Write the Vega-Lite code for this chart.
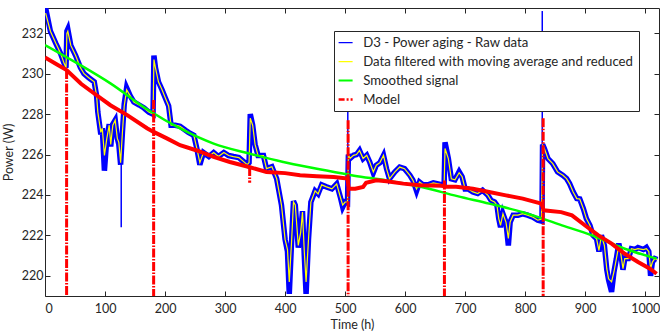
{
  "$schema": "https://vega.github.io/schema/vega-lite/v6.json",
  "width": 614,
  "height": 288,
  "autosize": {"type": "none"},
  "padding": {"left": 45, "top": 8, "right": 1, "bottom": 35},
  "background": "white",
  "config": {
    "view": {"stroke": null},
    "font": "Lato",
    "axis": {
      "grid": false,
      "domainColor": "#262626",
      "tickColor": "#262626",
      "labelColor": "#262626",
      "titleColor": "#262626",
      "labelFont": "Lato",
      "titleFont": "Lato",
      "labelFontSize": 12.5,
      "titleFontSize": 12.5,
      "titleFontWeight": "normal",
      "tickSize": -5,
      "domainWidth": 1,
      "tickWidth": 1,
      "format": "d"
    }
  },
  "datasets": {
    "raw": [
      {"h":0,"p":233.4},{"h":9,"p":232.1},{"h":18,"p":231.5},{"h":26,"p":231.0},{"h":32,"p":230.5},{"h":35,"p":230.3},
      {"h":36.5,"p":232.1},{"h":38,"p":232.2},{"h":43,"p":231.4},{"h":51,"p":230.9},{"h":59,"p":230.3},{"h":65,"p":230.0},
      {"h":73,"p":229.8},{"h":82,"p":229.6},{"h":86,"p":228.9},{"h":88,"p":228.1},{"h":93,"p":227.0},{"h":95.5,"p":227.3},
      {"h":99,"p":225.2},{"h":103,"p":226.8},{"h":107,"p":227.5},{"h":109.5,"p":226.4},{"h":113,"p":227.5},{"h":117,"p":227.7},
      {"h":120.5,"p":226.8},{"h":123,"p":226.5},{"h":126,"p":225.5},{"h":129,"p":227.1},
      {"h":132,"p":228.5},{"h":136,"p":229.3},{"h":142,"p":228.9},{"h":148,"p":228.6},{"h":157,"p":228.45},{"h":165,"p":228.3},
      {"h":173,"p":228.1},{"h":180,"p":228.0},{"h":181.5,"p":230.9},{"h":184,"p":230.3},{"h":189,"p":229.6},{"h":195,"p":229.2},
      {"h":200.5,"p":228.8},{"h":206,"p":228.4},{"h":210,"p":227.45},{"h":217,"p":227.45},{"h":225,"p":227.4},{"h":234,"p":227.2},
      {"h":239,"p":227.1},{"h":248,"p":226.95},{"h":253,"p":226.3},{"h":258,"p":225.5},{"h":264,"p":226.1},{"h":273,"p":225.9},
      {"h":281,"p":226.1},{"h":289,"p":225.9},{"h":298,"p":226.1},{"h":306,"p":225.95},{"h":314,"p":225.9},{"h":323,"p":225.85},
      {"h":331,"p":225.65},{"h":337,"p":225.5},{"h":340,"p":225.6},{"h":342,"p":228.0},{"h":346,"p":227.45},{"h":350,"p":226.5},
      {"h":355,"p":225.95},{"h":364,"p":225.95},{"h":369,"p":225.3},{"h":378,"p":225.4},{"h":386,"p":224.8},{"h":394,"p":223.5},
      {"h":400,"p":221.8},{"h":404,"p":221.2},{"h":407,"p":219.1},{"h":411,"p":221.8},{"h":414,"p":223.7},{"h":417,"p":223.5},
      {"h":422,"p":221.4},{"h":426,"p":222.15},{"h":429,"p":223.2},{"h":432,"p":221.0},{"h":435,"p":219.1},{"h":439,"p":221.8},
      {"h":443,"p":223.65},{"h":450,"p":224.2},{"h":455,"p":224.05},{"h":461,"p":224.5},{"h":469,"p":224.4},{"h":478,"p":224.3},
      {"h":486,"p":224.55},{"h":492,"p":223.9},{"h":496,"p":223.4},{"h":500,"p":223.65},{"h":504,"p":223.6},
      {"h":505.5,"p":226.0},{"h":508,"p":225.8},{"h":514,"p":225.96},{"h":519,"p":226.0},{"h":524,"p":226.2},{"h":530,"p":225.8},
      {"h":536,"p":225.96},{"h":541,"p":225.63},{"h":547,"p":225.1},{"h":552,"p":225.47},{"h":558,"p":225.6},{"h":564,"p":225.96},
      {"h":569,"p":225.3},{"h":574,"p":224.8},{"h":583,"p":225.14},{"h":591,"p":225.38},{"h":599,"p":225.3},{"h":608,"p":224.97},
      {"h":613,"p":224.73},{"h":619,"p":224.2},{"h":624,"p":224.64},{"h":630,"p":224.5},{"h":638,"p":224.5},{"h":647,"p":224.6},
      {"h":655,"p":224.55},{"h":662,"p":224.5},{"h":665,"p":224.5},{"h":666.5,"p":226.6},{"h":672,"p":225.8},{"h":677,"p":224.8},
      {"h":683,"p":224.75},{"h":690,"p":225.15},{"h":695,"p":224.9},{"h":700,"p":224.3},{"h":705,"p":224.3},{"h":713,"p":224.15},
      {"h":721,"p":224.07},{"h":729,"p":224.23},{"h":738,"p":223.98},{"h":743,"p":223.74},{"h":749,"p":223.65},{"h":753,"p":223.49},
      {"h":756,"p":222.83},{"h":759,"p":222.4},{"h":763,"p":223.07},{"h":768,"p":222.66},{"h":772,"p":221.5},{"h":775,"p":222.66},
      {"h":780,"p":223.0},{"h":788,"p":223.0},{"h":796,"p":223.07},{"h":804,"p":223.0},{"h":813,"p":222.9},{"h":821,"p":222.75},
      {"h":828,"p":222.7},{"h":829,"p":226.5},{"h":832,"p":226.3},{"h":838,"p":225.8},{"h":846,"p":225.55},
      {"h":854,"p":225.14},{"h":863,"p":224.97},{"h":869,"p":224.81},{"h":874,"p":224.56},{"h":880,"p":224.15},{"h":886,"p":223.82},
      {"h":891,"p":223.8},{"h":897,"p":223.32},{"h":902,"p":222.83},{"h":908,"p":222.49},{"h":913,"p":222.0},{"h":919,"p":221.83},
      {"h":923,"p":221.2},{"h":927,"p":222.0},{"h":932,"p":221.5},{"h":936,"p":220.3},{"h":939,"p":219.8},{"h":944,"p":219.2},
      {"h":948,"p":220.2},{"h":952,"p":220.85},{"h":956,"p":221.6},{"h":959,"p":221.17},{"h":963,"p":220.3},{"h":966,"p":220.85},
      {"h":972,"p":220.85},{"h":977,"p":221.34},{"h":983,"p":221.3},{"h":988,"p":221.4},{"h":997,"p":221.3},{"h":1002,"p":221.4},
      {"h":1006,"p":221.2},{"h":1009,"p":220.0},{"h":1012,"p":220.68},{"h":1016,"p":220.85},{"h":1020,"p":220.8}
    ],
    "spikes": [
      {"h":127,"lo":222.4,"hi":226.0},
      {"h":504.5,"lo":223.6,"hi":228.3},
      {"h":828.5,"lo":222.7,"hi":233.1}
    ],
    "filt": [
      {"h":1,"p":233.0},{"h":9,"p":232.1},{"h":18,"p":231.5},{"h":26,"p":231.0},{"h":32,"p":230.5},{"h":35,"p":230.3},
      {"h":36.5,"p":232.0},{"h":38,"p":232.1},{"h":43,"p":231.4},{"h":51,"p":230.9},{"h":59,"p":230.3},{"h":65,"p":230.0},
      {"h":73,"p":229.8},{"h":82,"p":229.6},{"h":86,"p":228.9},{"h":88,"p":228.1},{"h":93,"p":227.1},{"h":95.5,"p":227.3},
      {"h":99,"p":225.96},{"h":103,"p":226.8},{"h":107,"p":227.45},{"h":109.5,"p":226.5},{"h":113,"p":227.45},{"h":117,"p":227.7},
      {"h":120.5,"p":226.8},{"h":123,"p":226.6},{"h":126,"p":225.6},{"h":129,"p":227.1},{"h":132,"p":228.4},{"h":136,"p":229.2},
      {"h":142,"p":228.9},{"h":148,"p":228.6},{"h":157,"p":228.45},{"h":165,"p":228.3},{"h":173,"p":228.1},{"h":180,"p":228.0},
      {"h":181.5,"p":230.7},{"h":184,"p":230.3},{"h":189,"p":229.6},{"h":195,"p":229.2},{"h":200.5,"p":228.8},{"h":206,"p":228.4},
      {"h":210,"p":227.45},{"h":217,"p":227.45},{"h":225,"p":227.4},{"h":234,"p":227.2},{"h":239,"p":227.1},{"h":248,"p":226.95},
      {"h":253,"p":226.3},{"h":258,"p":225.6},{"h":264,"p":226.1},{"h":273,"p":225.9},{"h":281,"p":226.1},{"h":289,"p":225.9},
      {"h":298,"p":226.1},{"h":306,"p":225.95},{"h":314,"p":225.9},{"h":323,"p":225.85},{"h":331,"p":225.65},{"h":337,"p":225.5},
      {"h":340,"p":225.6},{"h":342,"p":227.8},{"h":346,"p":227.45},{"h":350,"p":226.5},{"h":355,"p":225.95},{"h":364,"p":225.95},
      {"h":369,"p":225.3},{"h":378,"p":225.4},{"h":386,"p":224.8},{"h":394,"p":223.5},{"h":400,"p":221.8},{"h":404,"p":221.3},
      {"h":407,"p":219.7},{"h":411,"p":221.8},{"h":414,"p":223.65},{"h":417,"p":223.5},{"h":422,"p":221.5},{"h":426,"p":222.15},
      {"h":429,"p":223.15},{"h":432,"p":221.2},{"h":435,"p":219.7},{"h":439,"p":221.8},{"h":443,"p":223.65},{"h":450,"p":224.2},
      {"h":455,"p":224.05},{"h":461,"p":224.5},{"h":469,"p":224.4},{"h":478,"p":224.3},{"h":486,"p":224.55},{"h":492,"p":223.9},
      {"h":496,"p":223.5},{"h":500,"p":223.65},{"h":504,"p":223.65},{"h":505.5,"p":226.0},{"h":508,"p":225.8},{"h":514,"p":225.96},
      {"h":519,"p":226.0},{"h":524,"p":226.2},{"h":530,"p":225.8},{"h":536,"p":225.96},{"h":541,"p":225.63},{"h":547,"p":225.14},
      {"h":552,"p":225.47},{"h":558,"p":225.6},{"h":564,"p":225.96},{"h":569,"p":225.3},{"h":574,"p":224.8},{"h":583,"p":225.14},
      {"h":591,"p":225.38},{"h":599,"p":225.3},{"h":608,"p":224.97},{"h":613,"p":224.73},{"h":619,"p":224.3},{"h":624,"p":224.64},
      {"h":630,"p":224.5},{"h":638,"p":224.5},{"h":647,"p":224.6},{"h":655,"p":224.55},{"h":662,"p":224.5},{"h":665,"p":224.5},
      {"h":666.5,"p":226.3},{"h":672,"p":225.8},{"h":677,"p":224.8},{"h":683,"p":224.75},{"h":690,"p":225.1},{"h":695,"p":224.9},
      {"h":700,"p":224.3},{"h":705,"p":224.3},{"h":713,"p":224.15},{"h":721,"p":224.07},{"h":729,"p":224.23},{"h":738,"p":223.98},
      {"h":743,"p":223.74},{"h":749,"p":223.65},{"h":753,"p":223.49},{"h":756,"p":222.83},{"h":759,"p":222.5},{"h":763,"p":223.07},
      {"h":768,"p":222.66},{"h":772,"p":221.85},{"h":775,"p":222.66},{"h":780,"p":223.0},{"h":788,"p":223.0},{"h":796,"p":223.07},
      {"h":804,"p":223.0},{"h":813,"p":222.9},{"h":821,"p":222.75},{"h":827,"p":222.8},{"h":829,"p":226.45},{"h":832,"p":226.3},
      {"h":838,"p":225.8},{"h":846,"p":225.55},{"h":854,"p":225.14},{"h":863,"p":224.97},{"h":869,"p":224.81},{"h":874,"p":224.56},
      {"h":880,"p":224.15},{"h":886,"p":223.82},{"h":891,"p":223.8},{"h":897,"p":223.32},{"h":902,"p":222.83},{"h":908,"p":222.49},
      {"h":913,"p":222.0},{"h":919,"p":221.83},{"h":923,"p":221.25},{"h":927,"p":222.0},{"h":932,"p":221.5},{"h":936,"p":220.35},
      {"h":939,"p":219.85},{"h":944,"p":219.7},{"h":948,"p":220.2},{"h":952,"p":220.85},{"h":956,"p":221.5},{"h":959,"p":221.17},
      {"h":963,"p":220.35},{"h":966,"p":220.85},{"h":972,"p":220.85},{"h":977,"p":221.34},{"h":983,"p":221.3},{"h":988,"p":221.34},
      {"h":997,"p":221.3},{"h":1002,"p":221.34},{"h":1006,"p":221.2},{"h":1009,"p":220.35},{"h":1012,"p":220.68},{"h":1016,"p":220.85},
      {"h":1020,"p":220.8}
    ],
    "smooth": [
      {"h":0,"p":231.42},{"h":54,"p":230.51},{"h":109,"p":229.52},{"h":172,"p":228.2},{"h":225,"p":227.29},{"h":281,"p":226.54},
      {"h":340,"p":226.05},{"h":397,"p":225.63},{"h":453,"p":225.3},{"h":515,"p":224.95},{"h":569,"p":224.72},{"h":624,"p":224.42},
      {"h":687,"p":223.94},{"h":740,"p":223.57},{"h":796,"p":223.15},{"h":858,"p":222.53},{"h":911,"p":222.0},{"h":966,"p":221.34},
      {"h":1019,"p":220.85}
    ],
    "model": [
      {"h":0,"p":230.8},{"h":20,"p":230.45},{"h":36,"p":230.18},{"h":60,"p":229.5},{"h":82,"p":229.02},{"h":109,"p":228.44},
      {"h":137,"p":227.95},{"h":170,"p":227.3},{"h":181,"p":227.12},{"h":203,"p":226.8},{"h":225,"p":226.46},{"h":253,"p":226.2},
      {"h":281,"p":225.88},{"h":308,"p":225.63},{"h":340,"p":225.38},{"h":369,"p":225.14},{"h":400,"p":225.08},{"h":425,"p":224.97},
      {"h":453,"p":224.93},{"h":481,"p":224.89},{"h":504,"p":224.81},{"h":506,"p":224.31},{"h":517,"p":224.31},{"h":530,"p":224.4},
      {"h":535,"p":224.6},{"h":552,"p":224.73},{"h":569,"p":224.68},{"h":597,"p":224.56},{"h":624,"p":224.48},{"h":662,"p":224.45},
      {"h":668,"p":224.4},{"h":685,"p":224.4},{"h":713,"p":224.31},{"h":740,"p":224.15},{"h":768,"p":223.98},{"h":796,"p":223.82},
      {"h":827,"p":223.57},{"h":831,"p":223.24},{"h":860,"p":223.15},{"h":878,"p":222.99},{"h":900,"p":222.49},{"h":922,"p":222.0},
      {"h":944,"p":221.59},{"h":966,"p":221.09},{"h":988,"p":220.68},{"h":1008,"p":220.35},{"h":1019,"p":220.1}
    ],
    "resets": [
      {"h":36,"top":230.18,"bot":215},
      {"h":181,"top":228.7,"bot":215},
      {"h":341,"top":225.38,"bot":224.6},
      {"h":505,"top":227.7,"bot":215},
      {"h":665.5,"top":224.72,"bot":215},
      {"h":830,"top":227.8,"bot":215}
    ]
  },
  "layer": [
    {
      "data": {"name": "raw"},
      "mark": {"type": "line", "strokeWidth": 5.5, "clip": true},
      "encoding": {
        "x": {"field": "h", "type": "quantitative",
              "scale": {"domain": [0, 1023], "nice": false, "zero": false},
              "axis": {"orient": "bottom", "values": [0,100,200,300,400,500,600,700,800,900,1000], "title": "Time (h)", "labelPadding": 11, "titlePadding": 4}},
        "y": {"field": "p", "type": "quantitative",
              "scale": {"domain": [219, 233.25], "nice": false, "zero": false},
              "axis": {"orient": "left", "values": [220,222,224,226,228,230,232], "title": "Power (W)", "labelPadding": 7, "titlePadding": 6}},
        "color": {"datum": "D3 - Power aging - Raw data", "type": "nominal",
                  "scale": {"domain": ["D3 - Power aging - Raw data", "Data filtered with moving average and reduced", "Smoothed signal", "Model"],
                            "range": ["#0000ff", "#ffff00", "#00ff00", "#ff0000"]},
                  "legend": {"title": null, "orient": "none", "legendX": 289, "legendY": 23,
                             "strokeColor": "#262626", "fillColor": "white", "padding": 5,
                             "symbolType": "stroke", "symbolSize": 196, "symbolStrokeWidth": 1.5,
                             "labelFont": "Lato", "labelFontSize": 13.2, "labelColor": "#262626",
                             "labelOffset": 11, "rowPadding": 5, "labelLimit": 400,
                             "encode": {"symbols": {"update": {
                               "strokeDash": {"signal": "datum.value === 'Model' ? [6,2,2,2] : [1,0]"},
                               "strokeWidth": {"signal": "datum.value === 'Model' ? 2.5 : datum.value === 'Smoothed signal' ? 2 : 1.2"}}}}}}
      }
    },
    {
      "data": {"name": "spikes"},
      "mark": {"type": "rule", "strokeWidth": 1.5, "clip": true},
      "encoding": {
        "x": {"field": "h", "type": "quantitative", "axis": null},
        "y": {"field": "lo", "type": "quantitative", "axis": null},
        "y2": {"field": "hi"},
        "color": {"datum": "D3 - Power aging - Raw data", "type": "nominal"}
      }
    },
    {
      "data": {"name": "filt"},
      "mark": {"type": "line", "strokeWidth": 1.2, "clip": true},
      "encoding": {
        "x": {"field": "h", "type": "quantitative", "axis": null},
        "y": {"field": "p", "type": "quantitative", "axis": null},
        "color": {"datum": "Data filtered with moving average and reduced", "type": "nominal"}
      }
    },
    {
      "data": {"name": "smooth"},
      "mark": {"type": "line", "strokeWidth": 2.5, "clip": true, "interpolate": "monotone"},
      "encoding": {
        "x": {"field": "h", "type": "quantitative",
              "axis": {"orient": "top", "values": [0,100,200,300,400,500,600,700,800,900,1000], "labels": false, "title": null}},
        "y": {"field": "p", "type": "quantitative",
              "axis": {"orient": "right", "values": [220,222,224,226,228,230,232], "labels": false, "title": null}},
        "color": {"datum": "Smoothed signal", "type": "nominal"}
      }
    },
    {
      "data": {"name": "model"},
      "mark": {"type": "line", "strokeWidth": 4, "clip": true},
      "encoding": {
        "x": {"field": "h", "type": "quantitative", "axis": null},
        "y": {"field": "p", "type": "quantitative", "axis": null},
        "color": {"datum": "Model", "type": "nominal"}
      }
    },
    {
      "data": {"name": "resets"},
      "mark": {"type": "rule", "strokeWidth": 3, "strokeDash": [9, 1.5, 1.5, 1.5], "clip": true},
      "encoding": {
        "x": {"field": "h", "type": "quantitative", "axis": null},
        "y": {"field": "top", "type": "quantitative", "axis": null},
        "y2": {"field": "bot"},
        "color": {"datum": "Model", "type": "nominal"}
      }
    }
  ],
  "resolve": {"axis": {"x": "independent", "y": "independent"}}
}
